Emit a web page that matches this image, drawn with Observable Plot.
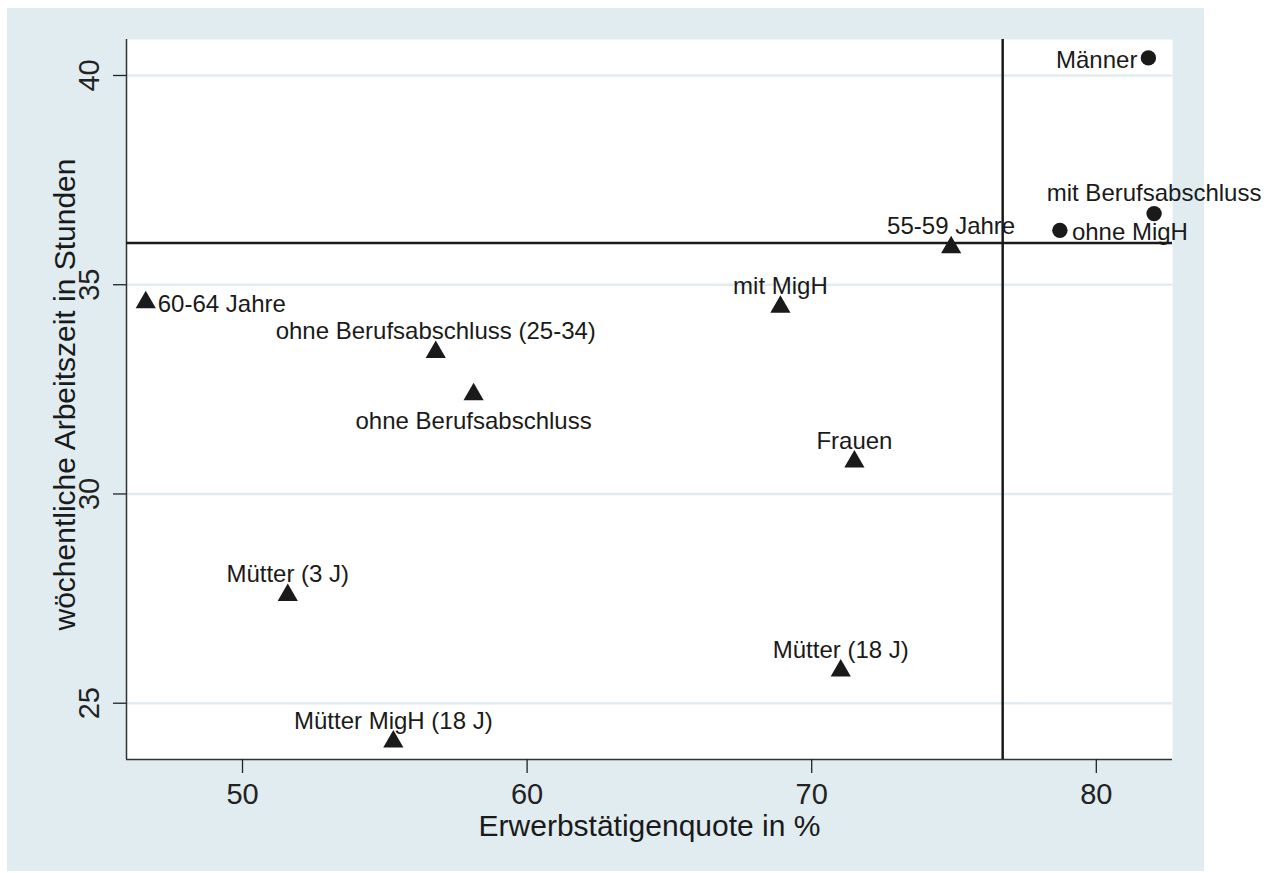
<!DOCTYPE html>
<html>
<head>
<meta charset="utf-8">
<script src="https://cdn.jsdelivr.net/npm/d3@7"></script>
<script src="https://cdn.jsdelivr.net/npm/@observablehq/plot@0.6"></script>
<style>
  body { margin: 0; background: #ffffff; }
  #bg { position: absolute; left: 7px; top: 8px; width: 1197px; height: 863px; background: #e0ecef; }
</style>
</head>
<body>
<div id="bg"></div>
<script>
// ---- data ----
const labels = ["Männer", "mit Berufsabschluss", "ohne MigH", "55-59 Jahre", "60-64 Jahre", "mit MigH",
  "ohne Berufsabschluss (25-34)", "ohne Berufsabschluss", "Frauen", "Mütter (3 J)", "Mütter (18 J)", "Mütter MigH (18 J)"];
const quote = [81.83, 82.03, 78.72, 74.90, 46.60, 68.90, 56.79, 58.12, 71.50, 51.59, 71.02, 55.30];
const hours = [40.42, 36.70, 36.30, 35.89, 34.58, 34.47, 33.39, 32.38, 30.77, 27.58, 25.78, 24.08];
const shapes = ["circle", "circle", "circle", "triangle", "triangle", "triangle",
  "triangle", "triangle", "triangle", "triangle", "triangle", "triangle"];
const labelPos = ["left", "above", "right", "above", "right", "above", "above", "below", "above", "above", "above", "above"];

const xTicks = [50, 60, 70, 80];
const yTicks = [25, 30, 35, 40];
const xDomain = [45.924, 82.677];
const yDomain = [23.655, 40.86];
const refX = [76.71];
const refY = [36.0];
const xTitle = "Erwerbstätigenquote in %";
const yTitle = "wöchentliche Arbeitszeit in Stunden";

const data = labels.map((label, i) => ({label, x: quote[i], y: hours[i], shape: shapes[i], pos: labelPos[i]}));

const ink = "#1a1a1a";
const grid = "#e0ecef";
const lblFont = 24;

const chart = Plot.plot({
  width: 1197,
  height: 863,
  marginLeft: 119,
  marginRight: 32,
  marginTop: 31,
  marginBottom: 112,
  x: {domain: xDomain},
  y: {domain: yDomain},
  style: {
    background: "transparent",
    overflow: "visible",
    fontFamily: "'Liberation Sans', Arial, Helvetica, sans-serif",
    color: "#222222"
  },
  marks: [
    Plot.frame({fill: "white", stroke: "none"}),
    Plot.ruleY(yTicks, {stroke: grid, strokeWidth: 2.5}),
    Plot.ruleX([xDomain[0]], {stroke: "#333333", strokeWidth: 1.5}),
    Plot.ruleY([yDomain[0]], {stroke: "#333333", strokeWidth: 1.5}),
    Plot.axisX({ticks: xTicks, tickSize: 14, tickPadding: 10, fontSize: 29, label: null, strokeWidth: 1.3, tickFormat: d => String(d)}),
    Plot.axisY({ticks: yTicks, tickSize: 13, tickPadding: 15, tickRotate: -90, fontSize: 29, label: null, strokeWidth: 1.3, tickFormat: d => String(d)}),
    Plot.ruleY(refY, {stroke: ink, strokeWidth: 2.5}),
    Plot.ruleX(refX, {stroke: ink, strokeWidth: 2.5}),
    Plot.dot(data, {filter: d => d.shape === "circle", x: "x", y: "y", symbol: "circle", r: 7.7, fill: ink, stroke: "none"}),
    Plot.dot(data, {filter: d => d.shape === "triangle", x: "x", y: "y", symbol: "triangle", r: 7.5, fill: ink, stroke: "none"}),
    Plot.text(data, {filter: d => d.pos === "above", x: "x", y: "y", text: "label", textAnchor: "middle", lineAnchor: "bottom", dy: -13, fontSize: lblFont, fill: ink}),
    Plot.text(data, {filter: d => d.pos === "below", x: "x", y: "y", text: "label", textAnchor: "middle", lineAnchor: "bottom", dy: 34.5, fontSize: lblFont, fill: ink}),
    Plot.text(data, {filter: d => d.pos === "left", x: "x", y: "y", text: "label", textAnchor: "end", lineAnchor: "bottom", dx: -11, dy: 10, fontSize: lblFont, fill: ink}),
    Plot.text(data, {filter: d => d.pos === "right", x: "x", y: "y", text: "label", textAnchor: "start", lineAnchor: "bottom", dx: 12, dy: 9.5, fontSize: lblFont, fill: ink}),
    Plot.text([xTitle], {text: d => d, frameAnchor: "bottom", lineAnchor: "bottom", textAnchor: "middle", dy: 76, fontSize: 30, fill: ink}),
    Plot.text([yTitle], {text: d => d, frameAnchor: "left", rotate: -90, lineAnchor: "bottom", textAnchor: "middle", dx: -52, dy: -5, fontSize: 30, fill: ink})
  ]
});
document.getElementById("bg").appendChild(chart);
</script>
</body>
</html>
